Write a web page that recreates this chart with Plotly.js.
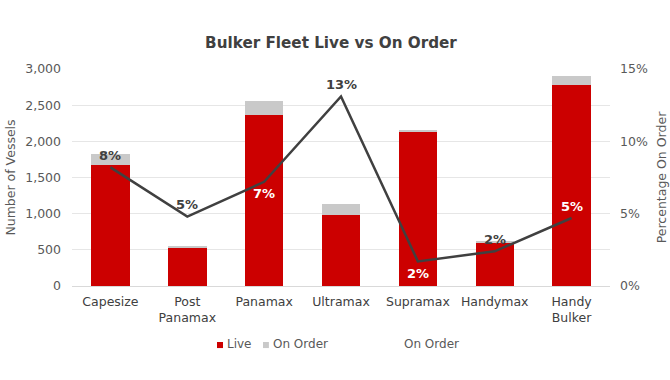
<!DOCTYPE html>
<html>
<head>
<meta charset="utf-8">
<script src="https://cdn.plot.ly/plotly-3.0.1.min.js"></script>
<style>html,body{margin:0;padding:0;background:#fff;}#chart{width:670px;height:380px;}</style>
</head>
<body>
<div id="chart"></div>
<script>
var categories = ['Capesize', 'Post<br>Panamax', 'Panamax', 'Ultramax', 'Supramax', 'Handymax', 'Handy<br>Bulker'];
var liveValues = [1673, 530, 2365, 978, 2134, 599, 2780];
var onOrderValues = [152, 27, 195, 152, 23, 21, 126];
var pctOnOrder = [8.2, 4.8, 7.2, 13.1, 1.7, 2.4, 4.7];
var labelAbove = [true, true, false, true, false, true, true];
var labelColors = ['#404040', '#404040', '#ffffff', '#404040', '#ffffff', '#404040', '#ffffff'];

var FONT = "'DejaVu Sans', Verdana, sans-serif";
var RED = '#cc0000', GREY = '#c9c9c9', LINE = '#404040';

var traces = [
  {type: 'bar', name: 'Live', x: categories, y: liveValues, marker: {color: RED}, hoverinfo: 'x+y'},
  {type: 'bar', name: 'On Order', x: categories, y: onOrderValues, marker: {color: GREY}, hoverinfo: 'x+y'},
  {type: 'scatter', mode: 'lines', name: 'On Order', x: categories, y: pctOnOrder, yaxis: 'y2',
   line: {color: LINE, width: 2.5}}
];

var annotations = pctOnOrder.map(function (v, i) {
  return {
    x: categories[i], y: v, xref: 'x', yref: 'y2',
    text: '<b>' + Math.round(v) + '%</b>', showarrow: false,
    yshift: labelAbove[i] ? 12 : -12,
    font: {family: FONT, size: 13, color: labelColors[i]}
  };
});

// compact legend, like the original
var legendY = -0.267;
var legendFont = {family: FONT, size: 12, color: '#595959'};
annotations.push(
  {xref: 'paper', yref: 'paper', x: 0.285, y: legendY, xanchor: 'left', yanchor: 'middle', showarrow: false,
   text: 'Live', font: legendFont},
  {xref: 'paper', yref: 'paper', x: 0.369, y: legendY, xanchor: 'left', yanchor: 'middle', showarrow: false,
   text: 'On Order', font: legendFont},
  {xref: 'paper', yref: 'paper', x: 0.614, y: legendY, xanchor: 'left', yanchor: 'middle', showarrow: false,
   text: 'On Order', font: legendFont}
);

var shapes = [
  {type: 'rect', xref: 'paper', yref: 'paper', x0: 0.2695, x1: 0.2807, y0: -0.258, y1: -0.286, fillcolor: RED, line: {width: 0}},
  {type: 'rect', xref: 'paper', yref: 'paper', x0: 0.355, x1: 0.366, y0: -0.258, y1: -0.286, fillcolor: GREY, line: {width: 0}}
];

var layout = {
  width: 670, height: 380,
  margin: {l: 72, r: 60, t: 69, b: 94},
  paper_bgcolor: '#ffffff', plot_bgcolor: '#ffffff',
  font: {family: FONT, size: 12.5, color: '#595959'},
  barmode: 'stack', bargap: 0.5,
  showlegend: false,
  title: {text: '<b>Bulker Fleet Live vs On Order</b>', x: 0.494, xanchor: 'center', y: 0.887, yanchor: 'middle',
          font: {family: FONT, size: 15.2, color: '#404040'}},
  xaxis: {showgrid: false, showline: true, linecolor: '#d9d9d9', linewidth: 1, ticks: '', ticklabelstandoff: 4,
          tickfont: {size: 12.5, color: '#404040'}, fixedrange: true},
  yaxis: {range: [0, 3000], dtick: 500, tickformat: ',d', gridcolor: '#e6e6e6', gridwidth: 1, zeroline: false,
          ticks: '', ticklabelstandoff: 10, tickfont: {size: 12.5, color: '#595959'},
          title: {text: 'Number of Vessels', font: {size: 12.5, color: '#595959'}, standoff: 6}},
  yaxis2: {overlaying: 'y', side: 'right', range: [0, 15], dtick: 5, ticksuffix: '%', showgrid: false, zeroline: false,
           ticks: '', ticklabelstandoff: 9, tickfont: {size: 12.5, color: '#595959'},
           title: {text: 'Percentage On Order', font: {size: 12.5, color: '#595959'}, standoff: 10}},
  annotations: annotations,
  shapes: shapes
};

Plotly.newPlot('chart', traces, layout, {displayModeBar: false, staticPlot: true});
</script>
</body>
</html>
